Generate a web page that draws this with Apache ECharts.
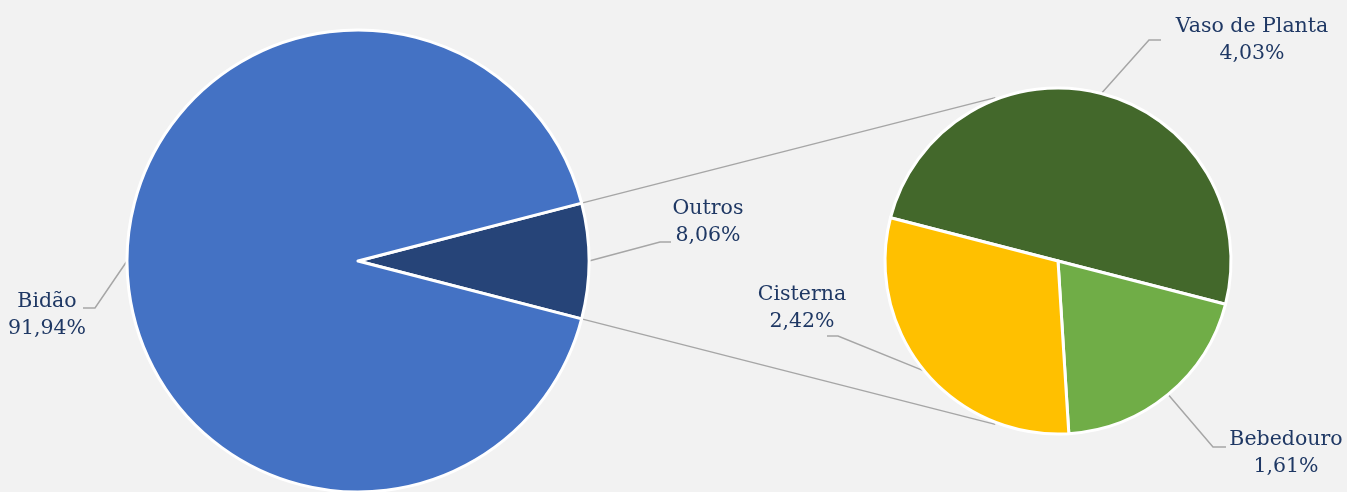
<!DOCTYPE html>
<html>
<head>
<meta charset="utf-8">
<script src="https://cdn.jsdelivr.net/npm/echarts@6/dist/echarts.min.js"></script>
<style>
  html, body { margin: 0; padding: 0; background: #f2f2f2; }
  #chart { width: 1347px; height: 492px; }
</style>
</head>
<body>
<div id="chart"></div>
<script>
// dados do gráfico
const mainNames = ['Outros', 'Bidão'];
const mainValues = [8.06, 91.94];
const subNames = ['Vaso de Planta', 'Bebedouro', 'Cisterna'];
const subValues = [4.03, 1.61, 2.42];

const mainColors = ['#264478', '#4472c4'];
const subColors = ['#43682b', '#70ad47', '#ffc000'];

// geometria
const mainC = [358, 261], mainR = 231;
const subC = [1058, 261], subR = 173;
const outrosHalf = mainValues[0] / 100 * 180; // meio ângulo da fatia Outros

// posição dos rótulos (centro do texto) e cotovelo da linha
const labelPos = {
  'Bidão':          { c: [47, 315],   elbow: [95, 308],   end: [83, 308] },
  'Outros':         { c: [708, 222],  elbow: [660, 242],  end: [671, 242] },
  'Vaso de Planta': { c: [1252, 40],  elbow: [1149, 40],  end: [1161, 40] },
  'Cisterna':       { c: [802, 308],  elbow: [838, 336],  end: [827, 336] },
  'Bebedouro':      { c: [1286, 453], elbow: [1213, 447], end: [1226, 447] }
};

const fmt = v => v.toFixed(2).replace('.', ',') + '%';

const labelStyle = {
  show: true,
  formatter: p => p.name + '\n' + fmt(p.value),
  color: '#1f3864',
  fontFamily: 'DejaVu Serif',
  fontSize: 20.5,
  lineHeight: 27,
  align: 'center'
};
const lineStyle = { show: true, smooth: false, lineStyle: { color: '#a6a6a6', width: 1.5 } };

function layoutFor(names) {
  return function (params) {
    const lp = labelPos[names[params.dataIndex]];
    const start = params.labelLinePoints ? params.labelLinePoints[0] : lp.elbow;
    return {
      x: lp.c[0],
      y: lp.c[1],
      align: 'center',
      verticalAlign: 'middle',
      labelLinePoints: [start, lp.elbow, lp.end]
    };
  };
}

const rad = d => d * Math.PI / 180;
function pt(c, r, deg) {
  return [c[0] + r * Math.cos(rad(deg)), c[1] - r * Math.sin(rad(deg))];
}
const connA = [pt(mainC, mainR, outrosHalf), pt(subC, subR + 2, 111)];
const connB = [pt(mainC, mainR, -outrosHalf), pt(subC, subR + 2, -111)];

const chart = echarts.init(document.getElementById('chart'));
chart.setOption({
  backgroundColor: '#f2f2f2',
  animation: false,
  graphic: [
    { type: 'line', z: 0, shape: { x1: connA[0][0], y1: connA[0][1], x2: connA[1][0], y2: connA[1][1] }, style: { stroke: '#a6a6a6', lineWidth: 1.5 } },
    { type: 'line', z: 0, shape: { x1: connB[0][0], y1: connB[0][1], x2: connB[1][0], y2: connB[1][1] }, style: { stroke: '#a6a6a6', lineWidth: 1.5 } }
  ],
  series: [
    {
      type: 'pie',
      center: mainC,
      radius: [0, mainR],
      startAngle: outrosHalf,
      clockwise: true,
      avoidLabelOverlap: false,
      itemStyle: { borderColor: '#ffffff', borderWidth: 3 },
      label: labelStyle,
      labelLine: lineStyle,
      labelLayout: layoutFor(mainNames),
      data: mainNames.map((n, i) => ({ name: n, value: mainValues[i], itemStyle: { color: mainColors[i] } }))
    },
    {
      type: 'pie',
      center: subC,
      radius: [0, subR],
      startAngle: 165.5,
      clockwise: true,
      avoidLabelOverlap: false,
      itemStyle: { borderColor: '#ffffff', borderWidth: 3 },
      label: labelStyle,
      labelLine: lineStyle,
      labelLayout: layoutFor(subNames),
      data: subNames.map((n, i) => ({ name: n, value: subValues[i], itemStyle: { color: subColors[i] } }))
    }
  ]
});
window.addEventListener('resize', () => { chart.resize(); });
</script>
</body>
</html>
